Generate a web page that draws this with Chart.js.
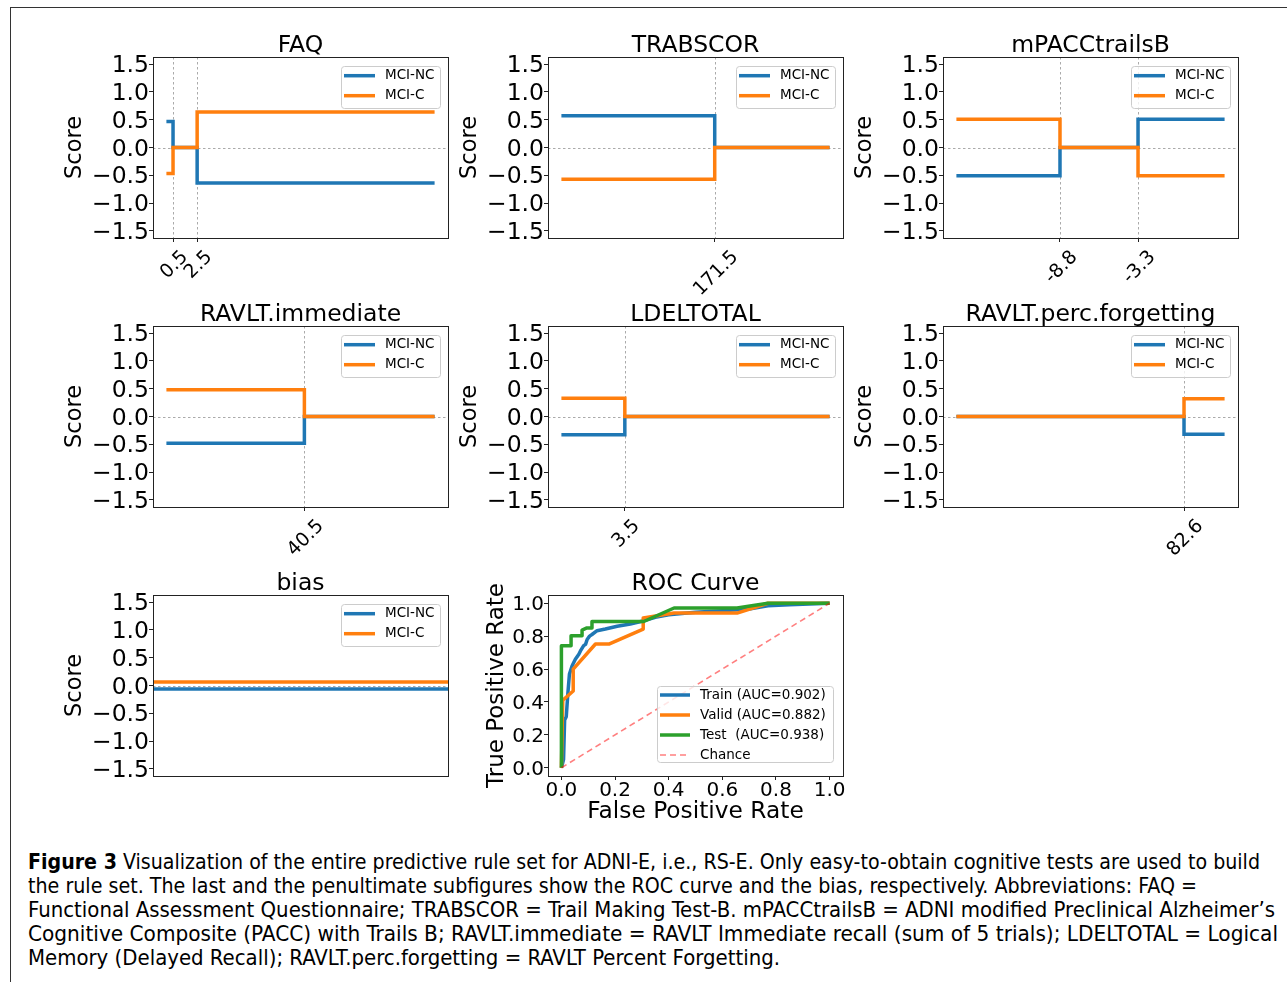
<!DOCTYPE html>
<html>
<head>
<meta charset="utf-8">
<title>RS-E rule set</title>
<script src="https://cdn.jsdelivr.net/npm/chart.js@4.4.1/dist/chart.umd.min.js"></script>
<style>
    html, body { margin: 0; padding: 0; background: #fff; }
    body { position: relative; width: 1287px; height: 982px; overflow: hidden; font-family: "DejaVu Sans", sans-serif; }
    .rule-top { position: absolute; left: 10px; top: 7px; width: 1277px; height: 1px; background: #333; }
    .rule-left { position: absolute; left: 10px; top: 7px; width: 1px; height: 975px; background: #333; }
    canvas.panel { position: absolute; }
    .cap { position: absolute; left: 28px; white-space: nowrap; font-family: "DejaVu Sans Condensed", "Liberation Sans Narrow", "Liberation Sans", sans-serif; font-size: 20.5px; line-height: 24px; color: #000; transform-origin: 0 0; }
</style>
</head>
<body>
<div class="rule-top"></div>
<div class="rule-left"></div>

<canvas class="panel" id="faq"></canvas>
<canvas class="panel" id="trab"></canvas>
<canvas class="panel" id="mpacc"></canvas>
<canvas class="panel" id="ravltImm"></canvas>
<canvas class="panel" id="ldel"></canvas>
<canvas class="panel" id="ravltForg"></canvas>
<canvas class="panel" id="bias"></canvas>
<canvas class="panel" id="roc"></canvas>

<div class="cap" data-w="1232" style="top:850px"><b>Figure 3</b> Visualization of the entire predictive rule set for ADNI-E, i.e., RS-E. Only easy-to-obtain cognitive tests are used to build</div>
<div class="cap" data-w="1169" style="top:874px">the rule set. The last and the penultimate subfigures show the ROC curve and the bias, respectively. Abbreviations: FAQ =</div>
<div class="cap" data-w="1247" style="top:898px">Functional Assessment Questionnaire; TRABSCOR = Trail Making Test-B. mPACCtrailsB = ADNI modified Preclinical Alzheimer’s</div>
<div class="cap" data-w="1250" style="top:922px">Cognitive Composite (PACC) with Trails B; RAVLT.immediate = RAVLT Immediate recall (sum of 5 trials); LDELTOTAL = Logical</div>
<div class="cap" data-w="752" style="top:946px">Memory (Delayed Recall); RAVLT.perc.forgetting = RAVLT Percent Forgetting.</div>

<script>
// ---- data ----
const groups = ["MCI-NC", "MCI-C"];
const scoreTicks = [-1.5, -1.0, -0.5, 0, 0.5, 1.0, 1.5];
const rocTicks = [0, 0.2, 0.4, 0.6, 0.8, 1.0];

// feature range [min, max], cut points, score per interval
const faqRange = [-0.05, 22.2];
const faqCuts = [0.5, 2.5];
const faqNC = [0.47, 0, -0.64];
const faqC = [-0.47, 0, 0.64];

const trabRange = [0, 300];
const trabCuts = [171.5];
const trabNC = [0.57, 0];
const trabC = [-0.57, 0];

const mpaccRange = [-16.1, 2.8];
const mpaccCuts = [-8.8, -3.3];
const mpaccNC = [-0.51, 0, 0.51];
const mpaccC = [0.51, 0, -0.51];

const ravltImmRange = [5, 74];
const ravltImmCuts = [40.5];
const ravltImmNC = [-0.48, 0];
const ravltImmC = [0.48, 0];

const ldelRange = [0, 14.8];
const ldelCuts = [3.5];
const ldelNC = [-0.33, 0];
const ldelC = [0.33, 0];

const ravltForgRange = [-15, 100];
const ravltForgCuts = [82.6];
const ravltForgNC = [0, -0.32];
const ravltForgC = [0, 0.32];

const biasRange = [0, 1];
const biasNC = [-0.065];
const biasC = [0.065];

const trainFpr = [0, 0.008, 0.012, 0.018, 0.024, 0.030, 0.040, 0.052, 0.065, 0.071, 0.083, 0.090, 0.096, 0.105, 0.114, 0.133, 0.164, 0.208, 0.257, 0.300, 0.350, 0.400, 0.500, 0.600, 0.700, 0.770, 0.850, 1.000];
const trainTpr = [0, 0.050, 0.290, 0.310, 0.450, 0.570, 0.620, 0.660, 0.690, 0.710, 0.742, 0.750, 0.780, 0.800, 0.810, 0.833, 0.843, 0.860, 0.874, 0.890, 0.915, 0.930, 0.945, 0.955, 0.965, 0.985, 0.990, 1.000];
const validFpr = [0, 0.005, 0.044, 0.044, 0.127, 0.177, 0.305, 0.305, 0.420, 0.655, 0.770, 1.000];
const validTpr = [0, 0.410, 0.467, 0.600, 0.752, 0.752, 0.843, 0.910, 0.940, 0.940, 1.000, 1.000];
const testFpr = [0, 0, 0.036, 0.036, 0.077, 0.077, 0.095, 0.114, 0.114, 0.307, 0.420, 0.655, 0.770, 1.000];
const testTpr = [0, 0.742, 0.742, 0.803, 0.803, 0.837, 0.850, 0.850, 0.889, 0.889, 0.971, 0.971, 1.000, 1.000];
const chanceFpr = [0, 1];
const chanceTpr = [0, 1];
const rocLabels = ["Train (AUC=0.902)", "Valid (AUC=0.882)", "Test  (AUC=0.938)", "Chance"];

// ---- look ----
const FONT = "DejaVu Sans";
const BLUE = "#1f77b4", ORANGE = "#ff7f0e", GREEN = "#2ca02c", CHANCE = "rgba(255,0,0,0.5)";
const colLeft = [153, 548, 943];
const rowTop = [57, 326, 595];
const AX_W = 295, AX_H = 181;
const PAD_TOP = 45, PAD_R = 12;

// caption lines stretched to the widths of the original
document.querySelectorAll(".cap").forEach(el => {
    const w = el.getBoundingClientRect().width;
    el.style.transform = "scaleX(" + (+el.dataset.w / w) + ")";
});

function place(cv, left, top, w, h) {
    cv.width = w;
    cv.height = h;
    cv.style.left = left + "px";
    cv.style.top = top + "px";
}

function stepPoints(range, cuts, vals) {
    const xs = [range[0], ...cuts, range[1]];
    const ys = [...vals, vals[vals.length - 1]];
    return xs.map((x, i) => ({ x, y: ys[i] }));
}

function zip(xs, ys) {
    return xs.map((x, i) => ({ x, y: ys[i] }));
}

function fmtMinus(v) {
    return (v < 0 ? "\u2212" : "") + Math.abs(v).toFixed(1);
}

function drawLegend(ctx, a, lg) {
    const bx = a.right - lg.dx;
    const by = lg.corner === "se" ? a.bottom - lg.dy - lg.h : a.top + lg.dy;
    ctx.save();
    ctx.fillStyle = "rgba(255,255,255,0.8)";
    ctx.strokeStyle = "#cccccc";
    ctx.lineWidth = 1;
    ctx.beginPath();
    ctx.roundRect(Math.round(bx) + 0.5, Math.round(by) + 0.5, lg.w, lg.h, 3);
    ctx.fill();
    ctx.stroke();
    ctx.font = "13.5px \"" + FONT + "\"";
    ctx.textBaseline = "middle";
    ctx.textAlign = "left";
    lg.items.forEach((it, i) => {
        const y = by + lg.first + i * lg.row;
        ctx.strokeStyle = it.color;
        ctx.lineWidth = it.width;
        ctx.setLineDash(it.dash || []);
        ctx.beginPath();
        ctx.moveTo(bx + 3, y);
        ctx.lineTo(bx + 3 + lg.sample, y);
        ctx.stroke();
        ctx.setLineDash([]);
        ctx.fillStyle = "#000";
        ctx.fillText(it.text, bx + lg.textX, y);
    });
    ctx.restore();
}

// titles, frame, dashed reference lines, rotated cut labels, legend
const decor = {
    id: "decor",
    beforeDatasetsDraw(chart, args, o) {
        const { ctx, chartArea: a, scales: { x, y } } = chart;
        ctx.save();
        ctx.strokeStyle = "#aaaaaa";
        ctx.lineWidth = 1;
        ctx.setLineDash([2.5, 2.5]);
        ctx.beginPath();
        (o.vlines || []).forEach(v => {
            const px = Math.round(x.getPixelForValue(v)) + 0.5;
            ctx.moveTo(px, a.top);
            ctx.lineTo(px, a.bottom);
        });
        (o.hlines || []).forEach(v => {
            const py = Math.round(y.getPixelForValue(v)) + 0.5;
            ctx.moveTo(a.left, py);
            ctx.lineTo(a.right, py);
        });
        ctx.stroke();
        ctx.restore();
    },
    afterDraw(chart, args, o) {
        const { ctx, chartArea: a, scales: { x } } = chart;
        ctx.save();
        ctx.strokeStyle = "#222";
        ctx.lineWidth = 1;
        ctx.setLineDash([]);
        const l = Math.round(a.left) + 0.5, t = Math.round(a.top) + 0.5;
        ctx.strokeRect(l, t, Math.round(a.right) - Math.round(a.left), Math.round(a.bottom) - Math.round(a.top));

        ctx.fillStyle = "#000";
        ctx.font = "23.5px \"" + FONT + "\"";
        ctx.textAlign = "center";
        ctx.textBaseline = "alphabetic";
        ctx.fillText(o.title, (a.left + a.right) / 2, a.top - 5);

        if (o.cutLabels) {
            const fs = 19;
            ctx.font = fs + "px \"" + FONT + "\"";
            o.cutLabels.forEach(v => {
                const txt = String(v);
                const w = ctx.measureText(txt).width;
                const h = fs * 0.73;
                const half = (w + h) * Math.SQRT1_2 / 2;
                ctx.save();
                ctx.translate(x.getPixelForValue(v), a.bottom + 10 + half);
                ctx.rotate(-Math.PI / 4);
                ctx.textAlign = "center";
                ctx.fillText(txt, 0, h / 2);
                ctx.restore();
            });
        }
        ctx.restore();
        if (o.legend) drawLegend(ctx, a, o.legend);
    }
};

const tickGrid = { drawOnChartArea: false, drawTicks: true, tickLength: 4, tickColor: "#222", tickWidth: 1 };

function scorePanel(id, col, row, title, range, cuts, nc, c, full) {
    const cv = document.getElementById(id);
    const yw = 92, xh = 70;
    place(cv, colLeft[col] - yw, rowTop[row] - PAD_TOP, yw + AX_W + PAD_R, PAD_TOP + AX_H + xh);
    const span = range[1] - range[0];
    const xmin = full ? range[0] : range[0] - 0.05 * span;
    const xmax = full ? range[1] : range[1] + 0.05 * span;
    const line = { pointRadius: 0, borderWidth: 3.5, stepped: true, borderJoinStyle: "miter", borderCapStyle: "butt", fill: false };

    new Chart(cv, {
        type: "line",
        data: {
            datasets: [
                Object.assign({ label: groups[0], data: stepPoints(range, cuts, nc), borderColor: BLUE, order: 2 }, line),
                Object.assign({ label: groups[1], data: stepPoints(range, cuts, c), borderColor: ORANGE, order: 1 }, line)
            ]
        },
        options: {
            responsive: false,
            animation: false,
            events: [],
            layout: { padding: { top: PAD_TOP, right: PAD_R, left: 0, bottom: 0 } },
            plugins: {
                legend: { display: false },
                tooltip: { enabled: false },
                decor: {
                    title,
                    vlines: cuts,
                    hlines: [0],
                    cutLabels: cuts,
                    legend: {
                        corner: "ne", dx: 107, dy: 8.5, w: 99, h: 42, first: 10.2, row: 20, sample: 31, textX: 44,
                        items: [
                            { text: groups[0], color: BLUE, width: 3.5 },
                            { text: groups[1], color: ORANGE, width: 3.5 }
                        ]
                    }
                }
            },
            scales: {
                x: {
                    type: "linear",
                    min: xmin,
                    max: xmax,
                    afterBuildTicks: s => { s.ticks = cuts.map(v => ({ value: v })); },
                    afterFit: s => { s.height = xh; },
                    ticks: { display: false, autoSkip: false },
                    grid: Object.assign({}, tickGrid, { display: cuts.length > 0 }),
                    border: { display: false }
                },
                y: {
                    type: "linear",
                    min: -1.63,
                    max: 1.63,
                    afterBuildTicks: s => { s.ticks = scoreTicks.map(v => ({ value: v })); },
                    afterFit: s => { s.width = yw; },
                    ticks: { font: { family: FONT, size: 23.5, lineHeight: 1 }, color: "#000", padding: 0, labelOffset: 2, autoSkip: false, callback: fmtMinus },
                    grid: tickGrid,
                    border: { display: false },
                    title: { display: true, text: "Score", font: { family: FONT, size: 22.5 }, color: "#000", padding: { top: 1, bottom: 0 } }
                }
            }
        },
        plugins: [decor]
    });
}

function rocPanel(id) {
    const cv = document.getElementById(id);
    const yw = 78, xh = 52;
    place(cv, colLeft[1] - yw, rowTop[2] - PAD_TOP, yw + AX_W + PAD_R, PAD_TOP + AX_H + xh);
    const line = { pointRadius: 0, borderWidth: 3.5, borderJoinStyle: "round", borderCapStyle: "butt", fill: false };

    new Chart(cv, {
        type: "line",
        data: {
            datasets: [
                Object.assign({ label: rocLabels[0], data: zip(trainFpr, trainTpr), borderColor: BLUE, order: 4 }, line),
                Object.assign({ label: rocLabels[1], data: zip(validFpr, validTpr), borderColor: ORANGE, order: 3 }, line),
                Object.assign({ label: rocLabels[2], data: zip(testFpr, testTpr), borderColor: GREEN, order: 2 }, line),
                Object.assign({}, line, { label: rocLabels[3], data: zip(chanceFpr, chanceTpr), borderColor: CHANCE, borderWidth: 1.6, borderDash: [6, 4], order: 1 })
            ]
        },
        options: {
            responsive: false,
            animation: false,
            events: [],
            layout: { padding: { top: PAD_TOP, right: PAD_R, left: 0, bottom: 0 } },
            plugins: {
                legend: { display: false },
                tooltip: { enabled: false },
                decor: {
                    title: "ROC Curve",
                    legend: {
                        corner: "se", dx: 186, dy: 14, w: 176, h: 76, first: 9, row: 20, sample: 30, textX: 43,
                        items: [
                            { text: rocLabels[0], color: BLUE, width: 3.5 },
                            { text: rocLabels[1], color: ORANGE, width: 3.5 },
                            { text: rocLabels[2], color: GREEN, width: 3.5 },
                            { text: rocLabels[3], color: CHANCE, width: 1.6, dash: [6, 4] }
                        ]
                    }
                }
            },
            scales: {
                x: {
                    type: "linear",
                    min: -0.05,
                    max: 1.05,
                    afterBuildTicks: s => { s.ticks = rocTicks.map(v => ({ value: v })); },
                    afterFit: s => { s.height = xh; },
                    ticks: { font: { family: FONT, size: 20, lineHeight: 1 }, color: "#000", padding: 1, maxRotation: 0, minRotation: 0, autoSkip: false, callback: v => v.toFixed(1) },
                    grid: tickGrid,
                    border: { display: false },
                    title: { display: true, text: "False Positive Rate", font: { family: FONT, size: 23.3 }, color: "#000", padding: { top: 0, bottom: 2 } }
                },
                y: {
                    type: "linear",
                    min: -0.05,
                    max: 1.05,
                    afterBuildTicks: s => { s.ticks = rocTicks.map(v => ({ value: v })); },
                    afterFit: s => { s.width = yw; },
                    ticks: { font: { family: FONT, size: 20, lineHeight: 1 }, color: "#000", padding: 0, labelOffset: 2, autoSkip: false, callback: v => v.toFixed(1) },
                    grid: tickGrid,
                    border: { display: false },
                    title: { display: true, text: "True Positive Rate", font: { family: FONT, size: 23 }, color: "#000", padding: { top: 13, bottom: 0 } }
                }
            }
        },
        plugins: [decor]
    });
}

scorePanel("faq", 0, 0, "FAQ", faqRange, faqCuts, faqNC, faqC, false);
scorePanel("trab", 1, 0, "TRABSCOR", trabRange, trabCuts, trabNC, trabC, false);
scorePanel("mpacc", 2, 0, "mPACCtrailsB", mpaccRange, mpaccCuts, mpaccNC, mpaccC, false);
scorePanel("ravltImm", 0, 1, "RAVLT.immediate", ravltImmRange, ravltImmCuts, ravltImmNC, ravltImmC, false);
scorePanel("ldel", 1, 1, "LDELTOTAL", ldelRange, ldelCuts, ldelNC, ldelC, false);
scorePanel("ravltForg", 2, 1, "RAVLT.perc.forgetting", ravltForgRange, ravltForgCuts, ravltForgNC, ravltForgC, false);
scorePanel("bias", 0, 2, "bias", biasRange, [], biasNC, biasC, true);
rocPanel("roc");
</script>
</body>
</html>
